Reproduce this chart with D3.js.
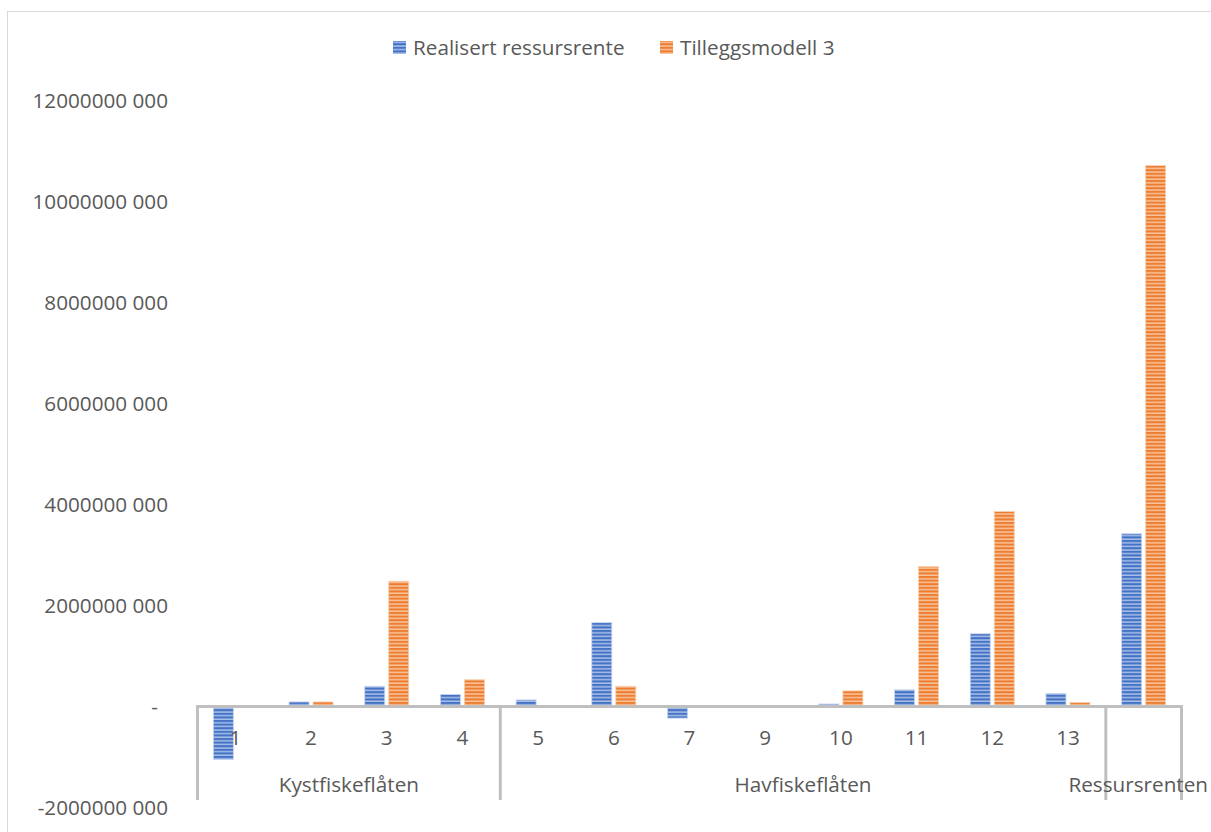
<!DOCTYPE html>
<html>
<head>
<meta charset="utf-8">
<script src="https://cdn.jsdelivr.net/npm/d3@7"></script>
<style>
  html, body { margin: 0; padding: 0; background: #fff; overflow: hidden; }
  svg { display: block; font-family: "Open Sans", "Liberation Sans", sans-serif; }
</style>
</head>
<body>
<script>
// ---- data ----
const categories = ["1", "2", "3", "4", "5", "6", "7", "9", "10", "11", "12", "13", ""];
const realisert = [-1.05e9, 0.09e9, 0.40e9, 0.24e9, 0.13e9, 1.66e9, -0.23e9, 0, 0.05e9, 0.33e9, 1.44e9, 0.26e9, 3.42e9];
const tillegg3 = [0, 0.09e9, 2.48e9, 0.53e9, 0, 0.40e9, 0, 0, 0.31e9, 2.77e9, 3.86e9, 0.08e9, 10.71e9];
const groupNames = ["Kystfiskeflåten", "Havfiskeflåten", "Ressursrenten"];
const groupSizes = [4, 8, 1];
const seriesNames = ["Realisert ressursrente", "Tilleggsmodell 3"];
const yTicks = [-2e9, 0, 2e9, 4e9, 6e9, 8e9, 10e9, 12e9];

const W = 1211, H = 832;
const svg = d3.select("body").append("svg").attr("width", W).attr("height", H);

// patterns
const defs = svg.append("defs");
function stripe(id, light, dark) {
  const p = defs.append("pattern").attr("id", id).attr("patternUnits", "userSpaceOnUse")
    .attr("width", 8).attr("height", 3.6);
  p.append("rect").attr("width", 8).attr("height", 3.6).attr("fill", light);
  p.append("rect").attr("y", 0).attr("width", 8).attr("height", 2.1).attr("fill", dark);
}
stripe("pBlue", "#a8bfe9", "#4472c4");
stripe("pOrange", "#f8c49c", "#ed7d31");
const fills = ["url(#pBlue)", "url(#pOrange)"];
const strokes = ["#c5d4ef", "#f7cfae"];

// chart border
svg.append("rect").attr("x", 7.5).attr("y", 11.5).attr("width", 1300).attr("height", 900)
  .attr("fill", "none").attr("stroke", "#d9d9d9").attr("stroke-width", 1);

// scales
const x0 = 197.5, x1 = 1181.5;
const x = d3.scaleBand().domain(d3.range(categories.length)).range([x0, x1]).paddingInner(0).paddingOuter(0);
const y = d3.scaleLinear().domain([-2e9, 12e9]).range([807.5, 100.5]);
const bw = 20, gap = 4;

const textColor = "#595959";
const fs = 20.7;

// y axis labels
function fmt(v) {
  if (v === 0) return "-";
  const s = Math.abs(v / 1000).toFixed(0);
  return (v < 0 ? "-" : "") + s + " 000";
}
const yAxis = d3.axisLeft(y).tickValues(yTicks).tickSize(0).tickPadding(0).tickFormat(fmt);
const gy = svg.append("g").attr("transform", "translate(168,0)").call(yAxis);
gy.select(".domain").remove();
gy.selectAll("text").attr("font-size", fs).attr("fill", textColor)
  .attr("font-family", "'Open Sans', sans-serif")
  .attr("dy", "0.35em")
  .attr("dx", d => d === 0 ? -10 : 0);

// bars
const data = categories.map((c, i) => ({ i, vals: [realisert[i], tillegg3[i]] }));
const gBars = svg.append("g");
data.forEach(d => {
  d.vals.forEach((v, s) => {
    if (v === 0) return;
    const cx = x(d.i) + x.bandwidth() / 2;
    const bx = s === 0 ? cx - gap / 2 - bw : cx + gap / 2;
    const y0 = y(0), yv = y(v);
    gBars.append("rect")
      .attr("x", bx).attr("width", bw)
      .attr("y", Math.min(y0, yv)).attr("height", Math.abs(yv - y0))
      .attr("fill", fills[s]).attr("stroke", strokes[s]).attr("stroke-width", 0.8);
  });
});

// x axis line
const axisCol = "#bfbfbf";
svg.append("line").attr("x1", x0).attr("x2", x1).attr("y1", y(0)).attr("y2", y(0))
  .attr("stroke", axisCol).attr("stroke-width", 3);

// category labels
const xAxis = d3.axisBottom(x).tickSize(0).tickPadding(0).tickFormat(i => categories[i]);
const gx = svg.append("g").attr("transform", "translate(0,738)").call(xAxis);
gx.select(".domain").remove();
gx.selectAll("text").attr("font-size", fs).attr("fill", textColor)
  .attr("font-family", "'Open Sans', sans-serif").attr("dy", "0.35em");

// group separators & labels
let start = 0;
const bounds = [0];
groupSizes.forEach(n => { start += n; bounds.push(start); });
bounds.forEach(b => {
  const bx = b < categories.length ? x(b) : x1;
  svg.append("line").attr("x1", bx).attr("x2", bx).attr("y1", y(0) - 1.5).attr("y2", 800)
    .attr("stroke", axisCol).attr("stroke-width", 3);
});
groupNames.forEach((g, k) => {
  const a = x(bounds[k]);
  const b = bounds[k + 1] < categories.length ? x(bounds[k + 1]) : x1;
  const t = svg.append("text").attr("x", (a + b) / 2).attr("y", 785).attr("dy", "0.35em")
    .attr("text-anchor", "middle").attr("font-size", fs).attr("fill", textColor).text(g);
  // keep the last label inside the picture
  const bb = t.node().getBBox();
  if (bb.x + bb.width > W - 3) {
    t.attr("text-anchor", "end").attr("x", W - 3);
  }
});

// legend
const legendItems = [{ x: 393, s: 0 }, { x: 660, s: 1 }];
legendItems.forEach(it => {
  svg.append("rect").attr("x", it.x).attr("y", 41).attr("width", 13).attr("height", 13)
    .attr("fill", fills[it.s]);
  svg.append("text").attr("x", it.x + 20).attr("y", 48).attr("dy", "0.35em")
    .attr("font-size", fs).attr("fill", textColor).text(seriesNames[it.s]);
});
</script>
</body>
</html>
